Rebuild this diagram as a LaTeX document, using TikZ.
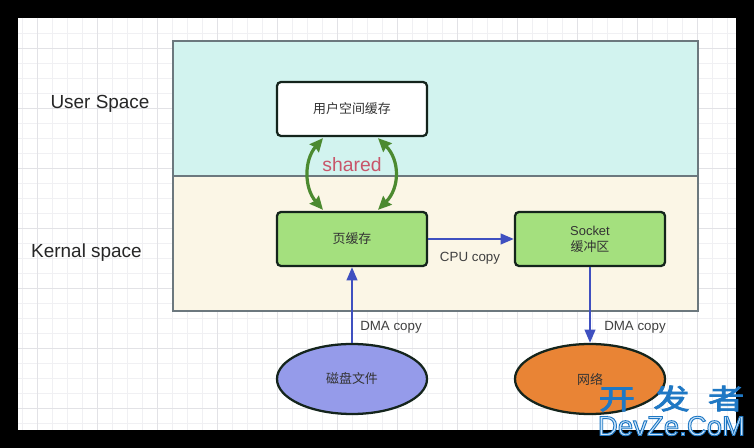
\documentclass[tikz,border=0pt]{standalone}
\usepackage{fontspec}
\setmainfont{Liberation Sans}
\newfontfamily\cjk{Noto Sans CJK SC}
\usetikzlibrary{arrows.meta, calc}
\usetikzlibrary{shapes.geometric}
\definecolor{gridminor}{HTML}{F0F0F3}
\definecolor{gridmajor}{HTML}{E2E2E6}
\definecolor{zoneline}{HTML}{6C787E}
\definecolor{userfill}{HTML}{D2F3EF}
\definecolor{kernfill}{HTML}{FBF6E6}
\definecolor{boxline}{HTML}{14241C}
\definecolor{boxgreen}{HTML}{A4E07E}
\definecolor{sharegreen}{HTML}{4C8A30}
\definecolor{sharedtext}{HTML}{C8566A}
\definecolor{copyblue}{HTML}{3F50C0}
\definecolor{diskfill}{HTML}{959BEA}
\definecolor{netfill}{HTML}{E98435}
\definecolor{markblue}{HTML}{1F78C4}
\tikzset{
  bufbox/.style={draw=boxline, line width=1.7pt, rounded corners=3pt, minimum width=112.5pt, minimum height=40.5pt, inner sep=0pt, align=center, font=\cjk\fontsize{9.7}{12.2}\selectfont, text=black!80},
  store/.style={ellipse, draw=boxline, line width=1.7pt, minimum width=112.5pt, minimum height=52.5pt, inner sep=0pt, font=\cjk\fontsize{9.7}{12.2}\selectfont, text=black!80},
  spacelabel/.style={font=\fontsize{14.2}{16}\selectfont, text=black!85},
  copylabel/.style={font=\fontsize{10}{12}\selectfont, text=black!75},
  copyline/.style={copyblue, line width=1.7pt, -{Triangle[length=10pt,width=8pt]}},
  shareline/.style={sharegreen, line width=2.4pt, {Stealth[length=10pt,width=9pt,inset=1pt]}-{Stealth[length=10pt,width=9pt,inset=1pt]}}
}
\begin{document}
\begin{tikzpicture}[x=0.75pt,y=-0.75pt]
  \useasboundingbox (0,0) rectangle (754,448);
  % --- frame and grid paper ---
  \fill[black] (0,0) rectangle (754,448);
  \fill[white] (18,18) rectangle (736,430);
  \foreach \gx in {22,37,...,735}
    \draw[gridminor, line width=0.6pt] (\gx,18) -- (\gx,430);
  \foreach \gy in {33,48,...,429}
    \draw[gridminor, line width=0.6pt] (18,\gy) -- (736,\gy);
  \foreach \gx in {37,97,...,735}
    \draw[gridmajor, line width=0.7pt] (\gx,18) -- (\gx,430);
  \foreach \gy in {48,108,...,429}
    \draw[gridmajor, line width=0.7pt] (18,\gy) -- (736,\gy);

  % --- the two spaces ---
  \filldraw[fill=userfill, draw=zoneline, line width=1.6pt] (173,41) rectangle (698,176);
  \filldraw[fill=kernfill, draw=zoneline, line width=1.6pt] (173,176) rectangle (698,311);
  \node[spacelabel] (userlabel) at (100,104) {User Space};
  \node[spacelabel] (kernlabel) at (86.5,253) {Kernal space};

  % --- buffers ---
  \node[bufbox, fill=white] (usercache) at (352,109) {用户空间缓存};
  \node[bufbox, fill=boxgreen] (pagecache) at (352,239) {页缓存};
  \node[bufbox, fill=boxgreen] (sockbuf) at (590,239) {{\rmfamily Socket}\\缓冲区};
  \node[store, fill=diskfill] (disk) at (352,379) {磁盘文件};
  \node[store, fill=netfill] (net) at (590,379) {网络};

  % --- shared mapping ---
  \coordinate (leftup) at ($(usercache.south)+(-29,1)$);
  \coordinate (leftdown) at ($(pagecache.north)+(-29,-1)$);
  \coordinate (rightup) at ($(usercache.south)+(26,1)$);
  \coordinate (rightdown) at ($(pagecache.north)+(26,-1)$);
  \draw[shareline] (leftup) .. controls ($(leftup)+(-19,22)$) and ($(leftdown)+(-19,-22)$) .. (leftdown);
  \draw[shareline] (rightup) .. controls ($(rightup)+(22,22)$) and ($(rightdown)+(22,-22)$) .. (rightdown);
  \node[font=\fontsize{14.5}{16}\selectfont, text=sharedtext] (sharedlabel) at (352,165) {shared};

  % --- copies ---
  \draw[copyline] (pagecache.east) -- (sockbuf.west);
  \draw[copyline] (disk.north) -- (pagecache.south);
  \draw[copyline] (sockbuf.south) -- (net.north);
  \node[copylabel] (cpulabel) at (470,258.5) {CPU copy};
  \node[copylabel] (dmaleft) at (391,327) {DMA copy};
  \node[copylabel] (dmaright) at (635,327) {DMA copy};

  % --- site mark ---
  \node[font=\cjk\fontsize{21}{24}\selectfont, text=markblue, transform shape, xscale=1.3] (markcn) at (671.5,398.5) {\special{pdf:code 0.12 0.47 0.77 RG 2 Tr 0.5 w}开\hspace{0.5em}发\hspace{0.5em}者};
  \node[font=\fontsize{20.7}{24}\selectfont, text=markblue] (markurl) at (671.5,426) {\special{pdf:code 0.12 0.47 0.77 RG 0.80 0.90 0.98 rg 2 Tr 0.7 w}DevZe.CoM};
\end{tikzpicture}
\end{document}
